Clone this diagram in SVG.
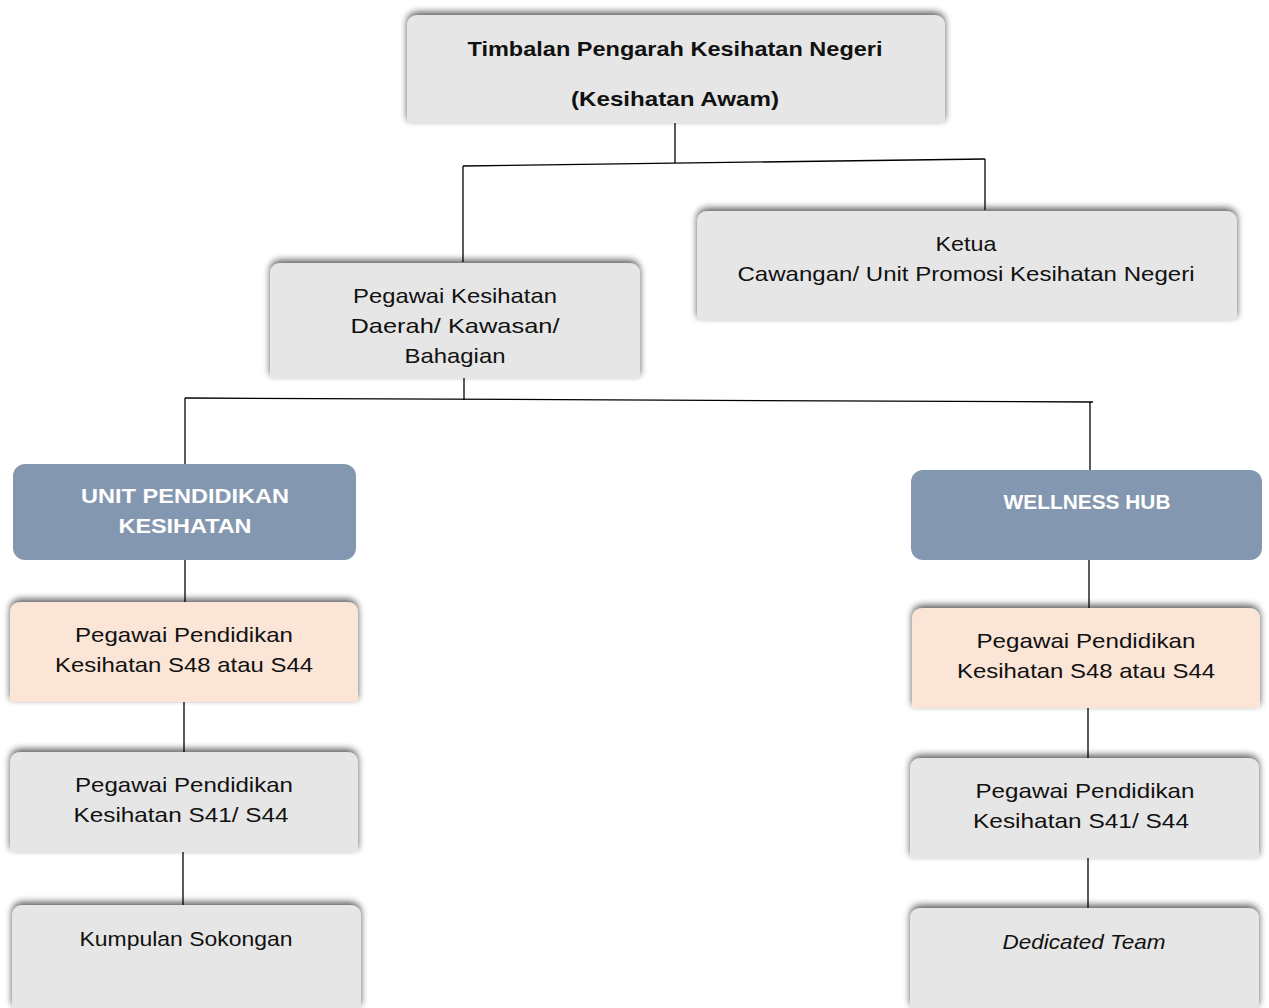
<svg xmlns="http://www.w3.org/2000/svg" width="1269" height="1008" viewBox="0 0 1269 1008">
<style>
.grey{fill:#e6e6e6}
.peach{fill:#fbe5d6}
.blue{fill:#8497b0}
.t{font-family:"Liberation Sans",Arial,sans-serif;font-size:21px;fill:#111;text-anchor:middle}
.b{font-weight:bold}
.w{font-family:"Liberation Sans",Arial,sans-serif;font-size:21px;font-weight:bold;fill:#fff;text-anchor:middle}
.i{font-style:italic}
.c{stroke:#000;stroke-width:1.3;fill:none}
</style>
<defs>
<filter id="sh" x="-10%" y="-20%" width="120%" height="140%">
<feGaussianBlur in="SourceAlpha" stdDeviation="3.5"/>
<feOffset dx="0" dy="-3" result="o"/>
<feComponentTransfer><feFuncA type="linear" slope="0.65"/></feComponentTransfer>
<feMerge><feMergeNode/><feMergeNode in="SourceGraphic"/></feMerge>
</filter>
</defs>
<rect width="1269" height="1008" fill="#fff"/>
<g id="connectors">
<path class="c" d="M675 123V163"/>
<path class="c" d="M463 166L985 159"/>
<path class="c" d="M463 166V262"/>
<path class="c" d="M985 159V210"/>
<path class="c" d="M464 378V400"/>
<path class="c" d="M185 398L1093 402"/>
<path class="c" d="M185 398V464"/>
<path class="c" d="M1090 402V470"/>
<path class="c" d="M185 560V602"/>
<path class="c" d="M184 702V752"/>
<path class="c" d="M183 852V905"/>
<path class="c" d="M1089 560V608"/>
<path class="c" d="M1088 708V758"/>
<path class="c" d="M1088 858V908"/>
</g>
<g id="n1">
<path class="grey" filter="url(#sh)" d="M407 123V27Q407 15 419 15H933Q945 15 945 27V123Z"/>
<text class="t b" x="675" y="56" textLength="415" lengthAdjust="spacingAndGlyphs">Timbalan Pengarah Kesihatan Negeri</text>
<text class="t b" x="675" y="106" textLength="208" lengthAdjust="spacingAndGlyphs">(Kesihatan Awam)</text>
</g>
<g id="n2">
<path class="grey" filter="url(#sh)" d="M270 378V275Q270 263 282 263H628Q640 263 640 275V378Z"/>
<text class="t" x="455" y="303" textLength="204" lengthAdjust="spacingAndGlyphs">Pegawai Kesihatan</text>
<text class="t" x="455" y="333" textLength="209" lengthAdjust="spacingAndGlyphs">Daerah/ Kawasan/</text>
<text class="t" x="455" y="363" textLength="101" lengthAdjust="spacingAndGlyphs">Bahagian</text>
</g>
<g id="n3">
<path class="grey" filter="url(#sh)" d="M697 320V223Q697 211 709 211H1225Q1237 211 1237 223V320Z"/>
<text class="t" x="966" y="251" textLength="61" lengthAdjust="spacingAndGlyphs">Ketua</text>
<text class="t" x="966" y="281" textLength="457" lengthAdjust="spacingAndGlyphs">Cawangan/ Unit Promosi Kesihatan Negeri</text>
</g>
<g id="n4">
<rect class="blue" x="13" y="464" width="343" height="96" rx="12"/>
<text class="w" x="185" y="503" textLength="208" lengthAdjust="spacingAndGlyphs">UNIT PENDIDIKAN</text>
<text class="w" x="185" y="533" textLength="133" lengthAdjust="spacingAndGlyphs">KESIHATAN</text>
</g>
<g id="n5">
<rect class="blue" x="911" y="470" width="351" height="90" rx="12"/>
<text class="w" x="1087" y="509" textLength="167" lengthAdjust="spacingAndGlyphs">WELLNESS HUB</text>
</g>
<g id="n6">
<path class="peach" filter="url(#sh)" d="M10 702V614Q10 602 22 602H346Q358 602 358 614V702Z"/>
<text class="t" x="184" y="642" textLength="218" lengthAdjust="spacingAndGlyphs">Pegawai Pendidikan</text>
<text class="t" x="184" y="672" textLength="258" lengthAdjust="spacingAndGlyphs">Kesihatan S48 atau S44</text>
</g>
<g id="n7">
<path class="grey" filter="url(#sh)" d="M10 852V764Q10 752 22 752H346Q358 752 358 764V852Z"/>
<text class="t" x="184" y="792" textLength="218" lengthAdjust="spacingAndGlyphs">Pegawai Pendidikan</text>
<text class="t" x="181" y="822" textLength="215" lengthAdjust="spacingAndGlyphs">Kesihatan S41/ S44</text>
</g>
<g id="n8">
<path class="grey" filter="url(#sh)" d="M12 1008V917Q12 905 24 905H349Q361 905 361 917V1008Z"/>
<text class="t" x="186" y="946" textLength="213" lengthAdjust="spacingAndGlyphs">Kumpulan Sokongan</text>
</g>
<g id="n9">
<path class="peach" filter="url(#sh)" d="M912 708V620Q912 608 924 608H1248Q1260 608 1260 620V708Z"/>
<text class="t" x="1086" y="648" textLength="219" lengthAdjust="spacingAndGlyphs">Pegawai Pendidikan</text>
<text class="t" x="1086" y="678" textLength="258" lengthAdjust="spacingAndGlyphs">Kesihatan S48 atau S44</text>
</g>
<g id="n10">
<path class="grey" filter="url(#sh)" d="M910 858V770Q910 758 922 758H1247Q1259 758 1259 770V858Z"/>
<text class="t" x="1085" y="798" textLength="219" lengthAdjust="spacingAndGlyphs">Pegawai Pendidikan</text>
<text class="t" x="1081" y="828" textLength="216" lengthAdjust="spacingAndGlyphs">Kesihatan S41/ S44</text>
</g>
<g id="n11">
<path class="grey" filter="url(#sh)" d="M910 1008V920Q910 908 922 908H1247Q1259 908 1259 920V1008Z"/>
<text class="t i" x="1084" y="949" textLength="163" lengthAdjust="spacingAndGlyphs">Dedicated Team</text>
</g>
</svg>
